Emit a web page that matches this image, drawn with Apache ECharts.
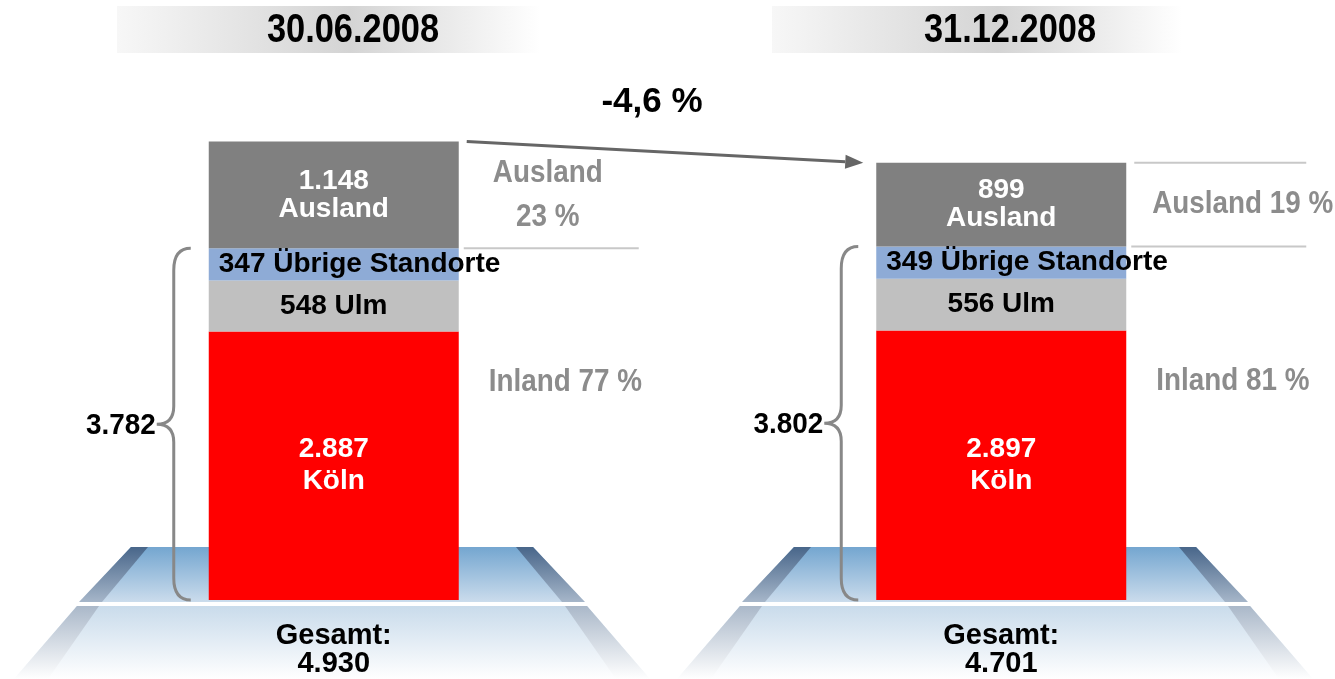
<!DOCTYPE html>
<html>
<head>
<meta charset="utf-8">
<script src="https://cdn.jsdelivr.net/npm/echarts@6/dist/echarts.min.js"></script>
<style>
  html, body { margin: 0; padding: 0; background: #fff; }
  #chart { width: 1335px; height: 679px; }
</style>
</head>
<body>
<div id="chart"></div>
<script>
// Mitarbeiter nach Standort, Stichtage
const periods = ['30.06.2008', '31.12.2008'];
const koeln = [2887, 2897];
const ulm = [548, 556];
const uebrige = [347, 349];
const ausland = [1148, 899];

const inland = koeln.map((v, i) => v + ulm[i] + uebrige[i]);
const gesamt = inland.map((v, i) => v + ausland[i]);

const FONT = "'Liberation Sans', Arial, sans-serif";
const BAR_W = 250;
const NARROW = 0.87; // schmale Schrift nachbilden

function fmt(n) {
  return String(n).replace(/\B(?=(\d{3})+(?!\d))/g, '.');
}
function pct(a, b) {
  return Math.round((a / b) * 100);
}
function vgrad(a, b) {
  return new echarts.graphic.LinearGradient(0, 0, 0, 1, [
    { offset: 0, color: a },
    { offset: 1, color: b },
  ]);
}
function label(color, extra) {
  return Object.assign(
    {
      show: true,
      color: color,
      fontFamily: FONT,
      fontWeight: 'bold',
      fontSize: 28,
      lineHeight: 28,
    },
    extra
  );
}
const textStyle = (size, color) => ({
  fill: color, font: 'bold ' + size + 'px ' + FONT,
});

// Podest unter jeder Säule
function platform(cx) {
  const T = 547, M = 602, M2 = 606, B = 679;
  return [
    {
      type: 'polygon', z: -5,
      shape: { points: [[cx - 201, T], [cx + 201, T], [cx + 252, M], [cx - 252, M]] },
      style: { fill: vgrad('#74a6d0', '#cbdcec') },
    },
    {
      type: 'polygon', z: -4,
      shape: { points: [[cx - 201, T], [cx - 184, T], [cx - 230, M], [cx - 253, M]] },
      style: { fill: vgrad('#48668a', '#a6b6c9') },
    },
    {
      type: 'polygon', z: -4,
      shape: { points: [[cx + 184, T], [cx + 201, T], [cx + 253, M], [cx + 230, M]] },
      style: { fill: vgrad('#48668a', '#a6b6c9') },
    },
    {
      type: 'polygon', z: -5,
      shape: { points: [[cx - 255, M2], [cx + 255, M2], [cx + 318, B], [cx - 318, B]] },
      style: { fill: vgrad('#c9dbeb', '#ffffff') },
    },
    {
      type: 'polygon', z: -4,
      shape: { points: [[cx - 255, M2], [cx - 233, M2], [cx - 284, B], [cx - 318, B]] },
      style: { fill: vgrad('#aab8c9', '#ffffff') },
    },
    {
      type: 'polygon', z: -4,
      shape: { points: [[cx + 233, M2], [cx + 255, M2], [cx + 318, B], [cx + 284, B]] },
      style: { fill: vgrad('#aab8c9', '#ffffff') },
    },
  ];
}

function titleBand(x, w, textX, text) {
  return [
    {
      type: 'rect', z: -5,
      shape: { x: x, y: 6, width: w, height: 47 },
      style: {
        fill: new echarts.graphic.LinearGradient(0, 0, 1, 0, [
          { offset: 0, color: '#f7f7f7' },
          { offset: 0.55, color: '#d4d4d4' },
          { offset: 1, color: '#ffffff' },
        ]),
      },
    },
    {
      type: 'text', z: 5, x: textX, y: 31, scaleX: 0.86,
      style: Object.assign(textStyle(40, '#000'), {
        text: text, align: 'center', verticalAlign: 'middle',
      }),
    },
  ];
}

const change = (((gesamt[1] - gesamt[0]) / gesamt[0]) * 100).toFixed(1).replace('.', ',') + ' %';

function renderAnnot(params, api) {
  const i = api.value(0);
  const inl = api.value(1);
  const tot = api.value(2);
  const pBot = api.coord([i, 0]);
  const pIn = api.coord([i, inl]);
  const pTop = api.coord([i, tot]);
  const cx = pBot[0];
  const lx = cx - BAR_W / 2;
  const rx = cx + BAR_W / 2;
  const children = [];

  // geschweifte Klammer über Inland
  const x = lx - 35, t = pIn[1], b = pBot[1], m = (t + b) / 2;
  const d = `M ${x + 17} ${t} Q ${x} ${t} ${x} ${t + 22} L ${x} ${m - 18} Q ${x} ${m} ${x - 17} ${m}` +
    ` Q ${x} ${m} ${x} ${m + 18} L ${x} ${b - 22} Q ${x} ${b} ${x + 17} ${b}`;
  children.push({
    type: 'path', shape: { pathData: d },
    style: { fill: 'none', stroke: '#888', lineWidth: 3 },
  });
  children.push({
    type: 'text', x: x - 18, y: m + 2, scaleX: 0.93,
    style: Object.assign(textStyle(30, '#000'), {
      text: fmt(inl), align: 'right', verticalAlign: 'middle',
    }),
  });

  // Hilfslinien neben Ausland
  children.push({
    type: 'line',
    shape: { x1: rx + 5, y1: pIn[1], x2: rx + 180, y2: pIn[1] },
    style: { stroke: '#c8c8c8', lineWidth: 2 },
  });
  if (i > 0) {
    // bei der ersten Säule markiert der Pfeil die Oberkante
    children.push({
      type: 'line',
      shape: { x1: rx + 8, y1: pTop[1], x2: rx + 180, y2: pTop[1] },
      style: { stroke: '#c8c8c8', lineWidth: 2 },
    });
  }

  const ausPct = pct(tot - inl, tot);
  const ausY = (pTop[1] + pIn[1]) / 2;
  if (i === 0) {
    children.push({
      type: 'text', x: rx + 89, y: ausY, scaleX: NARROW,
      style: Object.assign(textStyle(32, '#8c8c8c'), {
        text: 'Ausland\n' + ausPct + ' %', lineHeight: 44,
        align: 'center', verticalAlign: 'middle',
      }),
    });
  } else {
    children.push({
      type: 'text', x: rx + 26, y: ausY, scaleX: NARROW,
      style: Object.assign(textStyle(32, '#8c8c8c'), {
        text: 'Ausland ' + ausPct + ' %', align: 'left', verticalAlign: 'middle',
      }),
    });
  }
  const inY = api.coord([i, inl * 0.62])[1];
  children.push({
    type: 'text', x: rx + 30, y: inY, scaleX: NARROW,
    style: Object.assign(textStyle(32, '#8c8c8c'), {
      text: 'Inland ' + (100 - ausPct) + ' %', align: 'left', verticalAlign: 'middle',
    }),
  });

  // Pfeil zur zweiten Säule
  if (i === 0) {
    const p2 = api.coord([1, gesamt[1]]);
    const sx = rx + 8, sy = pTop[1];
    const ex = p2[0] - BAR_W / 2 - 13, ey = p2[1];
    const ang = Math.atan2(ey - sy, ex - sx);
    const hx = ex - 18 * Math.cos(ang), hy = ey - 18 * Math.sin(ang);
    const nx = -Math.sin(ang) * 7, ny = Math.cos(ang) * 7;
    children.push({
      type: 'line', shape: { x1: sx, y1: sy, x2: hx, y2: hy },
      style: { stroke: '#666', lineWidth: 3 },
    });
    children.push({
      type: 'polygon',
      shape: { points: [[ex, ey], [hx + nx, hy + ny], [hx - nx, hy - ny]] },
      style: { fill: '#666' },
    });
  }
  return { type: 'group', children: children };
}

const chart = echarts.init(document.getElementById('chart'));
chart.setOption({
  animation: false,
  backgroundColor: '#fff',
  grid: { left: 0, right: 0, top: 135, bottom: 79, containLabel: false, outerBoundsMode: 'none' },
  xAxis: {
    type: 'category',
    data: periods,
    axisLine: { show: false },
    axisTick: { show: false },
    splitLine: { show: false },
    axisLabel: {
      formatter: (v, i) => 'Gesamt:\n' + fmt(gesamt[i]),
      fontFamily: FONT,
      fontWeight: 'bold',
      fontSize: 29,
      lineHeight: 28,
      color: '#000',
      margin: 22,
    },
  },
  yAxis: { type: 'value', min: 0, max: 5000, show: false },
  graphic: {
    elements: [].concat(
      platform(332),
      platform(995),
      titleBand(117, 423, 353, periods[0]),
      titleBand(772, 410, 1010, periods[1]),
      [{
        type: 'text', z: 5, x: 652, y: 102,
        style: Object.assign(textStyle(35, '#000'), {
          text: change, align: 'center', verticalAlign: 'middle',
        }),
      }]
    ),
  },
  series: [
    {
      name: 'Köln', type: 'bar', stack: 'ma', barWidth: BAR_W, data: koeln,
      itemStyle: { color: '#ff0000' },
      label: label('#fff', { position: 'inside', lineHeight: 32, formatter: (p) => fmt(p.value) + '\nKöln' }),
    },
    {
      name: 'Ulm', type: 'bar', stack: 'ma', barWidth: BAR_W, data: ulm,
      itemStyle: { color: '#c0c0c0' },
      label: label('#000', { position: 'inside', formatter: (p) => fmt(p.value) + ' Ulm' }),
    },
    {
      name: 'Übrige Standorte', type: 'bar', stack: 'ma', barWidth: BAR_W, data: uebrige,
      itemStyle: { color: '#8eabd6' },
      label: label('#000', {
        position: 'insideLeft', distance: 10,
        formatter: (p) => fmt(p.value) + ' Übrige Standorte',
      }),
    },
    {
      name: 'Ausland', type: 'bar', stack: 'ma', barWidth: BAR_W, data: ausland,
      itemStyle: { color: '#808080' },
      label: label('#fff', { position: 'inside', formatter: (p) => fmt(p.value) + '\nAusland' }),
    },
    {
      name: 'annot', type: 'custom', coordinateSystem: 'cartesian2d', z: 3, silent: true,
      data: periods.map((p, i) => [i, inland[i], gesamt[i]]),
      renderItem: renderAnnot,
    },
  ],
});
</script>
</body>
</html>
